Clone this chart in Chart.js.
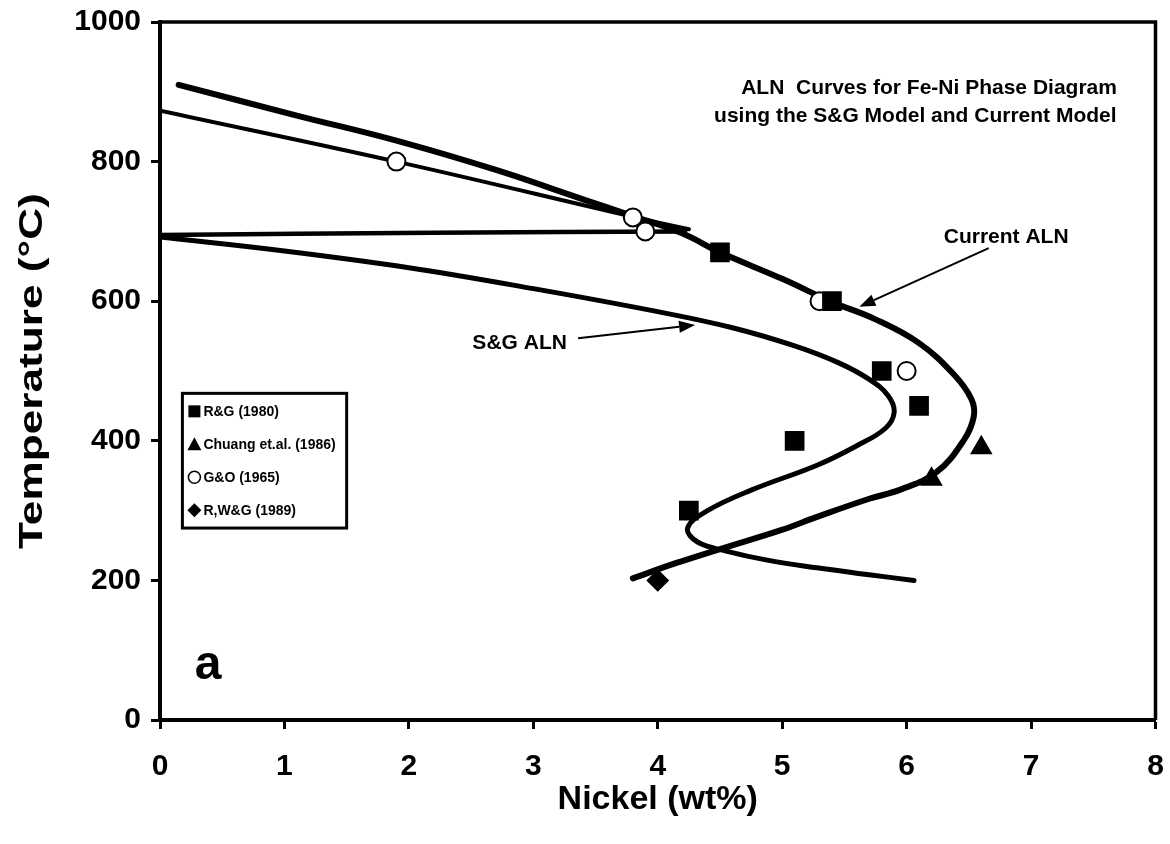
<!DOCTYPE html>
<html>
<head>
<meta charset="utf-8">
<script src="https://cdn.jsdelivr.net/npm/chart.js@4.4.1/dist/chart.umd.min.js"></script>
<style>
  html, body { margin: 0; padding: 0; background: #fff; }
</style>
</head>
<body>
<canvas id="chart" width="1170" height="844"></canvas>
<script>
/* ---- data ---- */
// Current ALN (thick curve)
const currentX = [0.15, 1.1, 1.9, 2.7, 3.4, 3.8, 4.2, 4.5, 5.0, 5.4, 5.75, 6.1, 6.38, 6.52, 6.54, 6.46, 6.24, 5.95, 5.7, 5.28, 4.99, 4.52, 4.15, 3.8];
const currentY = [910, 866, 830, 788, 746, 722, 697, 670, 632, 599, 574, 540, 495, 460, 435, 401, 355, 330, 317, 291, 272, 246, 225, 203];
// S&G ALN
const sgX = [0, 1.0, 2.0, 3.0, 4.0, 4.6, 5.1, 5.45, 5.7, 5.85, 5.9, 5.83, 5.6, 5.28, 4.76, 4.4, 4.24, 4.32, 4.55, 4.88, 5.28, 5.7, 6.06];
const sgY = [692, 672, 648, 618, 585, 562, 536, 512, 488, 465, 441, 418, 393, 365, 330, 300, 275, 255, 242, 229, 218, 208, 200];
// thin line through the G&O points
const goLineX = [0, 1.9, 3.8, 4.25];
const goLineY = [873, 800, 721, 703];
// nearly flat line at ~700 C
const flatX = [0, 2.2, 4.22];
const flatY = [695, 698, 700];

// measured points
const rgX = [4.5, 5.4, 5.8, 6.1, 5.1, 4.25];
const rgY = [670, 600, 500, 450, 400, 300];
const chuangX = [6.6, 6.2];
const chuangY = [390, 345];
const goX = [1.9, 3.8, 3.9, 5.3, 6.0];
const goY = [800, 720, 700, 600, 500];
const rwgX = [4.0];
const rwgY = [200];

const xTicks = [0, 1, 2, 3, 4, 5, 6, 7, 8];
const yTicks = [0, 200, 400, 600, 800, 1000];

const FONT = '"Liberation Sans", Arial, Helvetica, sans-serif';

function pts(xs, ys) {
  return xs.map((v, i) => ({ x: v, y: ys[i] }));
}

function lineSet(label, xs, ys, w) {
  return {
    label: label,
    data: pts(xs, ys),
    showLine: true,
    borderColor: '#000',
    borderWidth: w,
    tension: 0.4,
    pointRadius: 0,
    fill: false,
    order: 2,
    borderCapStyle: 'round',
    borderJoinStyle: 'round'
  };
}

function markSet(label, xs, ys, style, r, fill) {
  return {
    label: label,
    data: pts(xs, ys),
    showLine: false,
    pointStyle: style,
    pointRadius: r,
    pointBackgroundColor: fill,
    pointBorderColor: '#000',
    pointBorderWidth: 2,
    order: 1
  };
}

/* ---- texts, arrows, frame and legend box ---- */
const overlay = {
  id: 'overlay',
  afterDraw(chart) {
    const ctx = chart.ctx, a = chart.chartArea;
    const sx = chart.scales.x, sy = chart.scales.y;
    const px = v => sx.getPixelForValue(v);
    const py = v => sy.getPixelForValue(v);
    ctx.save();

    // top + right frame
    ctx.strokeStyle = '#000';
    ctx.lineWidth = 3.5;
    ctx.beginPath();
    ctx.moveTo(a.left, a.top);
    ctx.lineTo(a.right, a.top);
    ctx.lineTo(a.right, a.bottom);
    ctx.stroke();

    ctx.fillStyle = '#000';
    ctx.textBaseline = 'middle';

    // y axis title (the figure's lettering is stretched along the text)
    ctx.save();
    ctx.translate(33, (a.top + a.bottom) / 2);
    ctx.rotate(-Math.PI / 2);
    ctx.scale(1.3, 1);
    ctx.font = 'bold 34px ' + FONT;
    ctx.textAlign = 'center';
    ctx.fillText('Temperature (°C)', 0, 0);
    ctx.restore();

    // title
    ctx.font = 'bold 21px ' + FONT;
    ctx.textAlign = 'center';
    ctx.fillText('ALN  Curves for Fe-Ni Phase Diagram', px(6.18), py(905));
    ctx.fillText('using the S&G Model and Current Model', px(6.07), py(865));

    // curve labels
    ctx.font = 'bold 21px ' + FONT;
    ctx.fillText('Current ALN', px(6.8), py(692));
    ctx.fillText('S&G ALN', px(2.89), py(540));

    function arrow(x1, y1, x2, y2) {
      const X1 = px(x1), Y1 = py(y1), X2 = px(x2), Y2 = py(y2);
      const ang = Math.atan2(Y2 - Y1, X2 - X1);
      const L = 16, W = 6;
      ctx.lineWidth = 2;
      ctx.beginPath();
      ctx.moveTo(X1, Y1);
      ctx.lineTo(X2 - L * Math.cos(ang), Y2 - L * Math.sin(ang));
      ctx.stroke();
      ctx.beginPath();
      ctx.moveTo(X2, Y2);
      ctx.lineTo(X2 - L * Math.cos(ang) + W * Math.sin(ang), Y2 - L * Math.sin(ang) - W * Math.cos(ang));
      ctx.lineTo(X2 - L * Math.cos(ang) - W * Math.sin(ang), Y2 - L * Math.sin(ang) + W * Math.cos(ang));
      ctx.closePath();
      ctx.fill();
    }
    arrow(6.66, 676, 5.62, 592);
    arrow(3.36, 547, 4.30, 566);

    // panel letter
    ctx.font = 'bold 48px ' + FONT;
    ctx.textAlign = 'left';
    ctx.fillText('a', px(0.28), py(78));

    // legend box
    const bx = px(0.18), by = py(468), bw = px(1.5) - bx, bh = py(275) - by;
    ctx.fillStyle = '#fff';
    ctx.fillRect(bx, by, bw, bh);
    ctx.lineWidth = 3;
    ctx.strokeRect(bx, by, bw, bh);
    ctx.fillStyle = '#000';
    ctx.font = 'bold 14px ' + FONT;
    const marks = chart.data.datasets.filter(d => !d.showLine);
    marks.forEach((d, i) => {
      const cx = bx + 12, cy = by + 18 + i * 33;
      ctx.beginPath();
      if (d.pointStyle === 'rect') {
        ctx.rect(cx - 6, cy - 6, 12, 12);
        ctx.fill();
      } else if (d.pointStyle === 'triangle') {
        ctx.moveTo(cx, cy - 7);
        ctx.lineTo(cx + 7, cy + 6);
        ctx.lineTo(cx - 7, cy + 6);
        ctx.closePath();
        ctx.fill();
      } else if (d.pointStyle === 'circle') {
        ctx.arc(cx, cy, 6, 0, Math.PI * 2);
        ctx.lineWidth = 1.5;
        ctx.stroke();
      } else {
        ctx.moveTo(cx, cy - 7);
        ctx.lineTo(cx + 7, cy);
        ctx.lineTo(cx, cy + 7);
        ctx.lineTo(cx - 7, cy);
        ctx.closePath();
        ctx.fill();
      }
      ctx.textAlign = 'left';
      ctx.fillText(d.label, cx + 9, cy + 1);
    });

    ctx.restore();
  }
};

new Chart(document.getElementById('chart'), {
  type: 'scatter',
  data: {
    datasets: [
      lineSet('Current ALN', currentX, currentY, 6),
      lineSet('S&G ALN', sgX, sgY, 5),
      lineSet('G&O fit', goLineX, goLineY, 4),
      lineSet('700 line', flatX, flatY, 4.5),
      markSet('R&G (1980)', rgX, rgY, 'rect', 12.5, '#000'),
      markSet('Chuang et.al. (1986)', chuangX, chuangY, 'triangle', 11, '#000'),
      markSet('G&O (1965)', goX, goY, 'circle', 9, '#fff'),
      markSet('R,W&G (1989)', rwgX, rwgY, 'rectRot', 10, '#000')
    ]
  },
  options: {
    responsive: false,
    animation: false,
    layout: { padding: { top: 22, right: 12, left: 0, bottom: 0 } },
    plugins: {
      legend: { display: false },
      tooltip: { enabled: false }
    },
    scales: {
      x: {
        type: 'linear',
        min: 0, max: 8,
        afterFit: s => {
          s.height = 124;
          s.paddingLeft = 0; s.paddingRight = 0; s.paddingTop = 0; s.paddingBottom = 0;
        },
        afterBuildTicks: s => { s.ticks = xTicks.map(v => ({ value: v })); },
        ticks: { color: '#000', font: { family: FONT, size: 30, weight: 'bold' }, padding: 20 },
        grid: { drawOnChartArea: false, drawTicks: true, tickLength: 9, tickWidth: 3, tickColor: '#000', color: '#000' },
        border: { display: true, color: '#000', width: 4 },
        title: { display: true, text: 'Nickel (wt%)', color: '#000', font: { family: FONT, size: 34, weight: 'bold' }, padding: { top: 0, bottom: 24 } }
      },
      y: {
        type: 'linear',
        min: 0, max: 1000,
        afterFit: s => {
          s.width = 160;
          s.paddingLeft = 0; s.paddingRight = 0; s.paddingTop = 0; s.paddingBottom = 0;
        },
        afterBuildTicks: s => { s.ticks = yTicks.map(v => ({ value: v })); },
        ticks: { color: '#000', font: { family: FONT, size: 30, weight: 'bold' }, padding: 10, callback: v => String(v) },
        grid: { drawOnChartArea: false, drawTicks: true, tickLength: 9, tickWidth: 3, tickColor: '#000', color: '#000' },
        border: { display: true, color: '#000', width: 4 },
        title: { display: false }
      }
    }
  },
  plugins: [overlay]
});
</script>
</body>
</html>
